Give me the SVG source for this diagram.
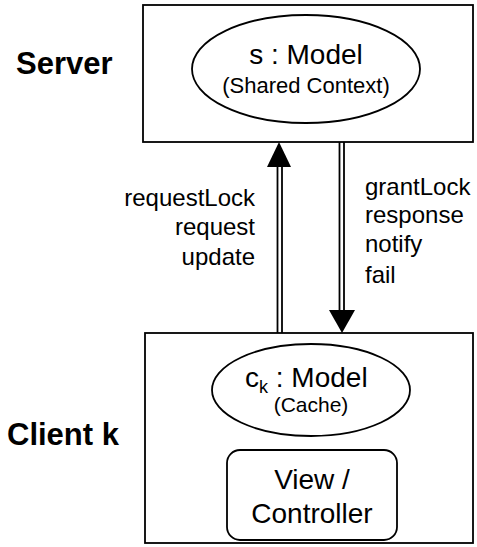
<svg xmlns="http://www.w3.org/2000/svg" width="477" height="547" viewBox="0 0 477 547">
<style>
text{font-family:"Liberation Sans",Arial,sans-serif;fill:#000}
.box{fill:#fff;stroke:#000;stroke-width:1.8}
.sh{fill:none;stroke:#000;stroke-width:1.8}
.head{fill:#000}
.bold{font-weight:bold;font-size:31px}
.lbl{font-size:24px}
</style>
<rect width="477" height="547" fill="#fff"/>
<text class="bold" x="16" y="74">Server</text>
<text class="bold" x="7" y="445">Client k</text>
<g id="server">
<rect class="box" x="143" y="5" width="330" height="137"/>
</g>
<g id="server-model">
<ellipse class="box" cx="306" cy="69" rx="114" ry="54"/>
<text x="306" y="64" font-size="28" text-anchor="middle">s : Model</text>
<text x="306" y="93" font-size="22" text-anchor="middle">(Shared Context)</text>
</g>
<g id="client">
<rect class="box" x="145" y="333" width="328" height="210"/>
</g>
<g id="client-model">
<ellipse class="box" cx="311" cy="390" rx="99" ry="46"/>
<text x="245" y="387" font-size="28">c<tspan font-size="18" dy="6">k</tspan><tspan dy="-6"> : Model</tspan></text>
<text x="311" y="412" font-size="21" text-anchor="middle">(Cache)</text>
</g>
<g id="view-controller">
<rect class="box" x="227" y="450" width="170" height="90" rx="13"/>
<text x="312" y="489" font-size="28" text-anchor="middle">View /</text>
<text x="312" y="523" font-size="28" text-anchor="middle">Controller</text>
</g>
<g id="connectors">
<line class="sh" x1="277.5" y1="165" x2="277.5" y2="333"/>
<line class="sh" x1="282" y1="165" x2="282" y2="333"/>
<polygon class="head" points="279,142 267,167 291,167"/>
<line class="sh" x1="339.5" y1="142" x2="339.5" y2="311"/>
<line class="sh" x1="344" y1="142" x2="344" y2="311"/>
<polygon class="head" points="342,333 329,310 355,310"/>
</g>
<g id="labels">
<text class="lbl" x="255" y="206" text-anchor="end">requestLock</text>
<text class="lbl" x="255" y="235" text-anchor="end">request</text>
<text class="lbl" x="255" y="265" text-anchor="end">update</text>
<text class="lbl" x="365" y="195">grantLock</text>
<text class="lbl" x="365" y="223">response</text>
<text class="lbl" x="365" y="252">notify</text>
<text class="lbl" x="365" y="283">fail</text>
</g>
</svg>
